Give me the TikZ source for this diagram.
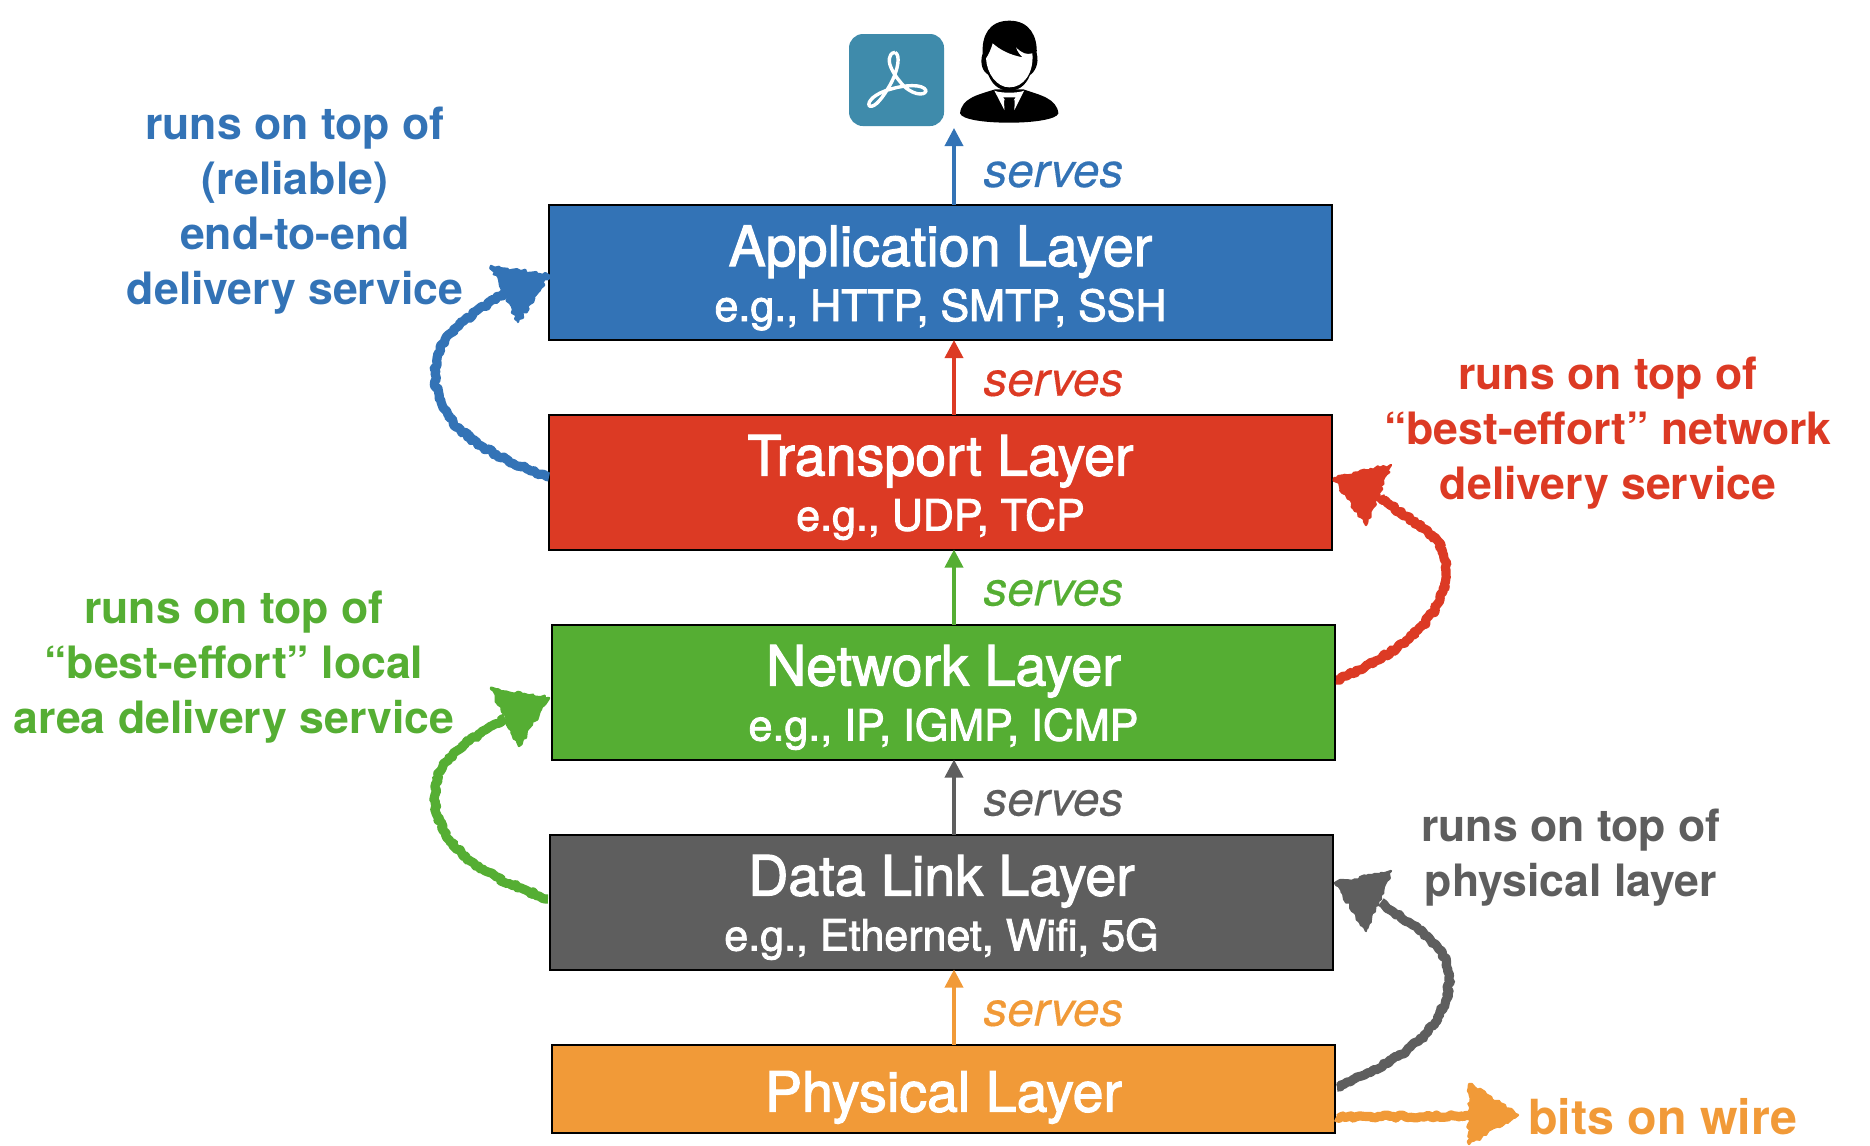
\documentclass[tikz,border=0pt]{standalone}
\usepackage{fontspec}
\setmainfont{TeX Gyre Heros}
\newfontfamily\mediumfont{TeX Gyre Heros}[UprightFeatures={FakeBold=2}]
\newfontfamily\servesfont{TeX Gyre Heros}[ItalicFeatures={FakeBold=0.3}]
\usetikzlibrary{arrows.meta}
\usetikzlibrary{calc}
\usetikzlibrary{decorations.pathmorphing}
\definecolor{appblue}{RGB}{51,115,182}
\definecolor{transred}{RGB}{220,58,36}
\definecolor{netgreen}{RGB}{85,174,51}
\definecolor{linkgray}{RGB}{94,94,94}
\definecolor{physorange}{RGB}{241,154,56}
\definecolor{pdfteal}{RGB}{63,139,171}
\newcommand{\layername}[1]{{\fontsize{27.8}{27.5}\selectfont\rule{0pt}{25.7pt}#1}}
\tikzset{
  layerbox/.style={draw=black,line width=1pt,text=white,outer sep=0pt,minimum width=391.5pt,minimum height=67.5pt,align=center,font=\mediumfont\fontsize{21.5}{27.5}\selectfont},
  servesarrow/.style={line width=1.8pt,-{Triangle[length=9pt,width=9pt]}},
  serveslabel/.style={font=\servesfont\fontsize{23.8}{28}\selectfont\itshape,anchor=west,xshift=10.5pt,yshift=-3pt},
  sidelabel/.style={font=\fontsize{22.3}{27.5}\selectfont\bfseries,align=center},
  sketchshaft/.style={line width=4.6pt,line join=round,decorate,decoration={random steps,segment length=1.3pt,amplitude=.8pt}},
  sketchhead/.style={line width=1.2pt,line join=round,decorate,decoration={random steps,segment length=1.5pt,amplitude=.9pt}}
}
\begin{document}
\begin{tikzpicture}[x=0.5pt,y=-0.5pt]
\pgfmathsetseed{7}
\useasboundingbox (0,0) rectangle (1870,1146);
% layers
\node (application) [layerbox,fill=appblue] at (940.5,272.5) {\layername{Application Layer}\\e.g., HTTP, SMTP, SSH};
\node (transport) [layerbox,fill=transred] at (940.5,482) {\layername{Transport Layer}\\e.g., UDP, TCP};
\node (network) [layerbox,fill=netgreen] at (943.5,692) {\layername{Network Layer}\\e.g., IP, IGMP, ICMP};
\node (datalink) [layerbox,fill=linkgray] at (941.5,902) {\layername{Data Link Layer}\\e.g., Ethernet, Wifi, 5G};
\node (physical) [layerbox,fill=physorange,minimum height=44pt,text height=28.7pt] at (943.5,1089) {\layername{Physical Layer}};
% serves arrows
\coordinate (axis) at (954,0);
\coordinate (usertop) at (954,128);
\draw [servesarrow,appblue] (application.north -| axis) -- (usertop) node (servesa) [serveslabel,midway,yshift=-1pt] {serves};
\draw [servesarrow,transred] (transport.north -| axis) -- (application.south -| axis) node (servesb) [serveslabel,midway] {serves};
\draw [servesarrow,netgreen] (network.north -| axis) -- (transport.south -| axis) node (servesc) [serveslabel,midway] {serves};
\draw [servesarrow,linkgray] (datalink.north -| axis) -- (network.south -| axis) node (servesd) [serveslabel,midway] {serves};
\draw [servesarrow,physorange] (physical.north -| axis) -- (datalink.south -| axis) node (servese) [serveslabel,midway] {serves};
% side arrows
\coordinate (bendblue) at (435,373);
\coordinate (bendgreen) at (435,795);
\coordinate (bendred) at (1446,570);
\coordinate (bendgray) at (1449,977);
\coordinate (wireend) at (1472,1116);
\draw [sketchshaft,appblue] ($(transport.west)+(0,-5)$) .. controls +(-70,-25) and +(0,50) .. (bendblue) .. controls +(0,-40) and +(-30,20) .. (505,293);
\filldraw [sketchhead,appblue] ($(application.west)+(0,3)$) -- (491,266) -- (518,322) -- cycle;
\draw [sketchshaft,netgreen] ($(datalink.west)+(-2,-3)$) .. controls +(-70,-25) and +(0,50) .. (bendgreen) .. controls +(0,-40) and +(-30,20) .. (505,718);
\filldraw [sketchhead,netgreen] ($(network.west)+(-3,6)$) -- (491,689) -- (519,746) -- cycle;
\draw [sketchshaft,transred] ($(network.east)+(1,-12)$) .. controls +(60,-25) and +(0,50) .. (bendred) .. controls +(0,-40) and +(30,30) .. (1380,496);
\filldraw [sketchhead,transred] ($(transport.east)+(2,-4)$) -- (1391,465) -- (1366,525) -- cycle;
\draw [sketchshaft,linkgray] ($(physical.east)+(2,-2)$) .. controls +(60,-25) and +(0,55) .. (bendgray) .. controls +(0,-35) and +(30,25) .. (1381,902);
\filldraw [sketchhead,linkgray] ($(datalink.east)+(2,-19)$) -- (1391,871) -- (1366,931) -- cycle;
\draw [sketchshaft,physorange] ($(physical.east)+(1,28)$) -- (wireend);
\filldraw [sketchhead,physorange] (1518,1115) -- (1469,1084) -- (1469,1144) -- cycle;
% side labels
\node (blueside) [sidelabel,appblue] at (295,211) {runs on top of\\(reliable)\\end-to-end\\delivery service};
\node (redside) [sidelabel,transred] at (1608,433.5) {runs on top of\\``best-effort'' network\\delivery service};
\node (greenside) [sidelabel,netgreen] at (234,667) {runs on top of\\``best-effort'' local\\area delivery service};
\node (grayside) [sidelabel,linkgray] at (1571,857.5) {runs on top of\\physical layer};
\node (wireside) [sidelabel,physorange,anchor=west,font=\fontsize{24.2}{28}\selectfont\bfseries] at (1521,1117) {bits on wire};
% pdf icon
\begin{scope}[shift={(800,0)},x=0.1667pt,y=-0.1667pt]
\fill [pdfteal,rounded corners=7pt] (147,102) rectangle (432,378);
\draw [white,line width=1.7pt,line join=round] (285,157) .. controls (302,165) and (295,210) .. (270,255) .. controls (250,290) and (225,325) .. (208,318) .. controls (200,305) and (225,280) .. (270,268) .. controls (310,255) and (370,250) .. (378,272) .. controls (375,290) and (330,285) .. (300,245) .. controls (275,215) and (262,185) .. (270,170) .. controls (272,160) and (280,157) .. (285,157);
% user icon
\fill [black] (628,62) .. controls (690,62) and (712,110) .. (710,160) .. controls (718,190) and (705,215) .. (690,225) .. controls (675,262) and (650,272) .. (628,272) .. controls (605,272) and (580,262) .. (565,225) .. controls (548,215) and (538,190) .. (548,160) .. controls (545,110) and (565,62) .. (628,62);
\fill [white] (578,130) .. controls (600,150) and (630,165) .. (668,172) .. controls (660,165) and (652,155) .. (648,142) .. controls (665,160) and (680,165) .. (697,160) .. controls (702,220) and (670,262) .. (628,262) .. controls (590,262) and (560,220) .. (558,175) .. controls (565,165) and (572,150) .. (578,130);
\fill [black] (480,340) .. controls (485,295) and (530,285) .. (585,268) -- (670,268) .. controls (720,285) and (770,295) .. (775,340) .. controls (770,358) and (700,368) .. (628,368) .. controls (550,368) and (485,358) .. (480,340);
\fill [white] (583,272) -- (613,330) -- (612,300) -- (644,300) -- (643,330) -- (672,272) .. controls (655,280) and (600,280) .. (583,272);
\fill [black] (610,292) -- (646,292) -- (636,308) -- (642,345) -- (614,345) -- (620,308) -- cycle;
\end{scope}
\end{tikzpicture}
\end{document}
